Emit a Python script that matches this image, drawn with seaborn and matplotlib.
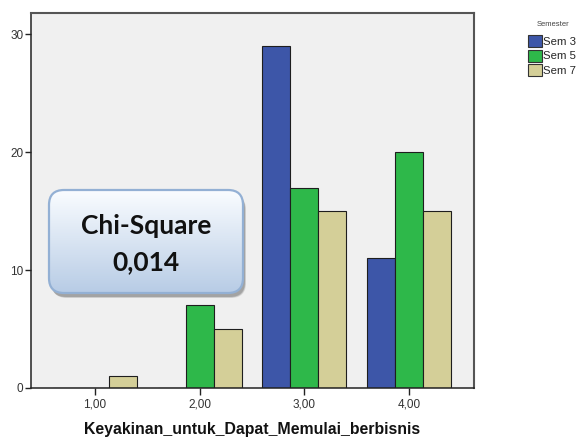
import matplotlib
matplotlib.use("Agg")
import matplotlib.pyplot as plt
import numpy as np
import pandas as pd
import seaborn as sns
from matplotlib.patches import FancyBboxPatch, Patch

# data
categories = ["1,00", "2,00", "3,00", "4,00"]
semesters = ["Sem 3", "Sem 5", "Sem 7"]
sem3 = [0, 0, 29, 11]
sem5 = [0, 7, 17, 20]
sem7 = [1, 5, 15, 15]
colors = ["#3d56a8", "#2eb84a", "#d4cf98"]

df = pd.DataFrame({
    "kategori": categories * 3,
    "Semester": np.repeat(semesters, len(categories)),
    "count": sem3 + sem5 + sem7,
})

sns.set_style("white")
plt.rcParams["font.family"] = ["Liberation Sans", "DejaVu Sans"]
W, H = 578, 437
fig = plt.figure(figsize=(W / 100, H / 100), dpi=100)
fig.patch.set_facecolor("white")

# main axes placed in pixel terms
ax = fig.add_axes([31 / W, 1 - 388 / H, (474 - 31) / W, (388 - 13) / H])
sns.barplot(data=df, x="kategori", y="count", hue="Semester", order=categories,
            hue_order=semesters, palette=colors, saturation=1, width=0.8,
            edgecolor="#1e1e1e", linewidth=0.8, errorbar=None, legend=False, ax=ax)
ax.set_facecolor("#f0f0f0")
ax.set_xlim(-0.61, 3.62)
ax.set_ylim(0, 31.8)
ax.set_yticks([0, 10, 20, 30])
ax.set_yticklabels(["0", "10", "20", "30"])
ax.tick_params(axis="both", direction="out", length=4, width=1, color="#222",
               labelsize=8.5, labelcolor="#333", pad=1.5)
ax.tick_params(axis="y", left=True)
ax.tick_params(axis="x", bottom=True, length=5, pad=2.5)
for s in ["left", "bottom"]:
    ax.spines[s].set_color("#222")
    ax.spines[s].set_linewidth(1.1)
for s in ["top", "right"]:
    ax.spines[s].set_color("#555")
    ax.spines[s].set_linewidth(1.5)
ax.set_ylabel("")
ax.set_xlabel("Keyakinan_untuk_Dapat_Memulai_berbisnis", fontsize=11.4,
              fontweight="bold", labelpad=8, color="#111")

# legend (title drawn separately for the wider SPSS gap)
fig.text(553 / W, 1 - 24 / H, "Semester", fontsize=5.5, color="#444",
         ha="center", va="center")
handles = [Patch(facecolor=c, edgecolor="#333", linewidth=0.8) for c in colors]
leg = fig.legend(handles, semesters, loc="upper left",
                 bbox_to_anchor=(528 / W, 1 - 35 / H), frameon=False,
                 fontsize=8.2, handlelength=1.2, handleheight=1.25,
                 handletextpad=0.15, labelspacing=0.22,
                 borderpad=0, borderaxespad=0)

# Chi-Square callout box
ax2 = fig.add_axes([40 / W, 1 - 310 / H, 220 / W, 130 / H])
ax2.set_xlim(40, 260)
ax2.set_ylim(310, 180)
ax2.axis("off")
x0, y0, bw, bh = 49, 190, 194, 103
for i, a in enumerate([0.15, 0.2, 0.3]):
    sh = FancyBboxPatch((x0 + 3 - i * 0.5, y0 + 5 - i * 0.5), bw, bh,
                        boxstyle="round,pad=0,rounding_size=15",
                        facecolor="#606060", edgecolor="none", alpha=a)
    ax2.add_patch(sh)
box = FancyBboxPatch((x0, y0), bw, bh, boxstyle="round,pad=0,rounding_size=15",
                     facecolor="none", edgecolor="#93b0d4", linewidth=1.6, zorder=3)
ax2.add_patch(box)
top = np.array([0.98, 0.99, 1.0])
bot = np.array([0.72, 0.80, 0.90])
t = np.linspace(0, 1, 100)[:, None]
grad = (top * (1 - t) + bot * t)[:, None, :]
im = ax2.imshow(grad, extent=[x0, x0 + bw, y0 + bh, y0], aspect="auto",
                origin="upper", zorder=2)
im.set_clip_path(box)
ax2.set_xlim(40, 260)
ax2.set_ylim(310, 180)
ax2.text(x0 + bw / 2, 226, "Chi-Square", ha="center", va="center", fontsize=19,
         fontweight="bold", family="Lato", color="#111", zorder=4)
ax2.text(x0 + bw / 2, 262, "0,014", ha="center", va="center", fontsize=19,
         fontweight="bold", family="Lato", color="#111", zorder=4)

fig.savefig("out.png", dpi=100)
